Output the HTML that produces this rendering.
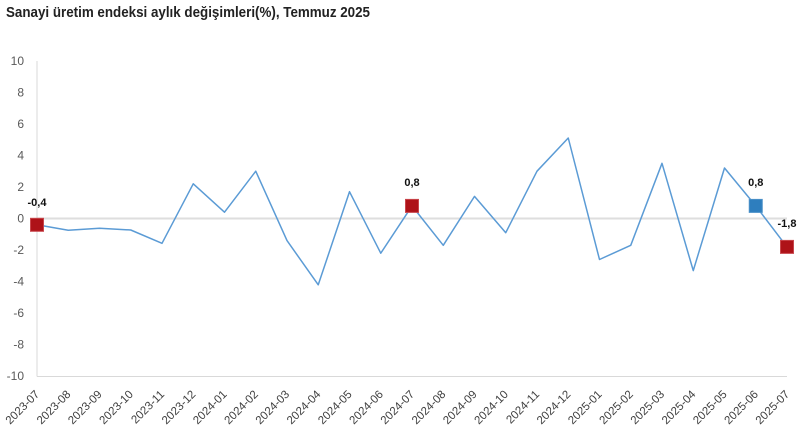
<!DOCTYPE html>
<html><head><meta charset="utf-8"><style>
html,body{margin:0;padding:0;background:#fff;}
svg{display:block;}
text{font-family:"Liberation Sans",sans-serif;}
</style></head><body>
<svg width="802" height="431" viewBox="0 0 802 431" xmlns="http://www.w3.org/2000/svg">
<rect width="802" height="431" fill="#fff"/>
<text x="6" y="17" font-size="14.5" font-weight="bold" fill="#222" textLength="364" lengthAdjust="spacingAndGlyphs">Sanayi üretim endeksi aylık değişimleri(%), Temmuz 2025</text>
<!-- axes -->
<line x1="37" y1="61" x2="37" y2="376.5" stroke="#d9d9d9" stroke-width="1"/>
<line x1="37" y1="376.5" x2="787" y2="376.5" stroke="#d9d9d9" stroke-width="1"/>
<line x1="37" y1="218.5" x2="787" y2="218.5" stroke="#dedede" stroke-width="2"/>
<!-- y labels -->
<g font-size="12" fill="#595959" text-anchor="end">
<text x="24" y="65">10</text>
<text x="24" y="96.5">8</text>
<text x="24" y="128">6</text>
<text x="24" y="159.5">4</text>
<text x="24" y="191">2</text>
<text x="24" y="222.5">0</text>
<text x="24" y="254">-2</text>
<text x="24" y="285.5">-4</text>
<text x="24" y="317">-6</text>
<text x="24" y="348.5">-8</text>
<text x="24" y="380">-10</text>
</g>
<!-- line -->
<polyline fill="none" stroke="#5B9BD5" stroke-width="1.5" stroke-linejoin="round" points="37,224.8 68.25,230.3 99.5,228.3 130.75,230 162,243.3 193.25,183.8 224.5,212.2 255.75,171.2 287,240.6 318.25,284.8 349.5,191.7 380.75,253.2 412,205.9 443.25,245.3 474.5,196.4 505.75,232.7 537,171.2 568.25,138 599.5,259.5 630.75,245.3 662,163.3 693.25,270.6 724.5,168 755.75,205.9 787,246.9"/>
<!-- markers -->
<rect x="30.5" y="218.3" width="13" height="13" fill="#AE1218" stroke="#C8464C" stroke-width="1"/>
<rect x="405.5" y="199.4" width="13" height="13" fill="#AE1218" stroke="#C8464C" stroke-width="1"/>
<rect x="749.25" y="199.4" width="13" height="13" fill="#2E7EBE" stroke="#4A90C8" stroke-width="1"/>
<rect x="780.5" y="240.4" width="13" height="13" fill="#AE1218" stroke="#C8464C" stroke-width="1"/>
<!-- data labels -->
<g font-size="11" font-weight="bold" fill="#111" text-anchor="middle">
<text x="37" y="206">-0,4</text>
<text x="412" y="186">0,8</text>
<text x="755.75" y="186">0,8</text>
<text x="787" y="227">-1,8</text>
</g>
<!-- x labels -->
<g font-size="11.5" fill="#404040" text-anchor="end">
<text transform="translate(40,395) rotate(-45)">2023-07</text>
<text transform="translate(71.25,395) rotate(-45)">2023-08</text>
<text transform="translate(102.5,395) rotate(-45)">2023-09</text>
<text transform="translate(133.75,395) rotate(-45)">2023-10</text>
<text transform="translate(165,395) rotate(-45)">2023-11</text>
<text transform="translate(196.25,395) rotate(-45)">2023-12</text>
<text transform="translate(227.5,395) rotate(-45)">2024-01</text>
<text transform="translate(258.75,395) rotate(-45)">2024-02</text>
<text transform="translate(290,395) rotate(-45)">2024-03</text>
<text transform="translate(321.25,395) rotate(-45)">2024-04</text>
<text transform="translate(352.5,395) rotate(-45)">2024-05</text>
<text transform="translate(383.75,395) rotate(-45)">2024-06</text>
<text transform="translate(415,395) rotate(-45)">2024-07</text>
<text transform="translate(446.25,395) rotate(-45)">2024-08</text>
<text transform="translate(477.5,395) rotate(-45)">2024-09</text>
<text transform="translate(508.75,395) rotate(-45)">2024-10</text>
<text transform="translate(540,395) rotate(-45)">2024-11</text>
<text transform="translate(571.25,395) rotate(-45)">2024-12</text>
<text transform="translate(602.5,395) rotate(-45)">2025-01</text>
<text transform="translate(633.75,395) rotate(-45)">2025-02</text>
<text transform="translate(665,395) rotate(-45)">2025-03</text>
<text transform="translate(696.25,395) rotate(-45)">2025-04</text>
<text transform="translate(727.5,395) rotate(-45)">2025-05</text>
<text transform="translate(758.75,395) rotate(-45)">2025-06</text>
<text transform="translate(790,395) rotate(-45)">2025-07</text>
</g>
</svg>
</body></html>
